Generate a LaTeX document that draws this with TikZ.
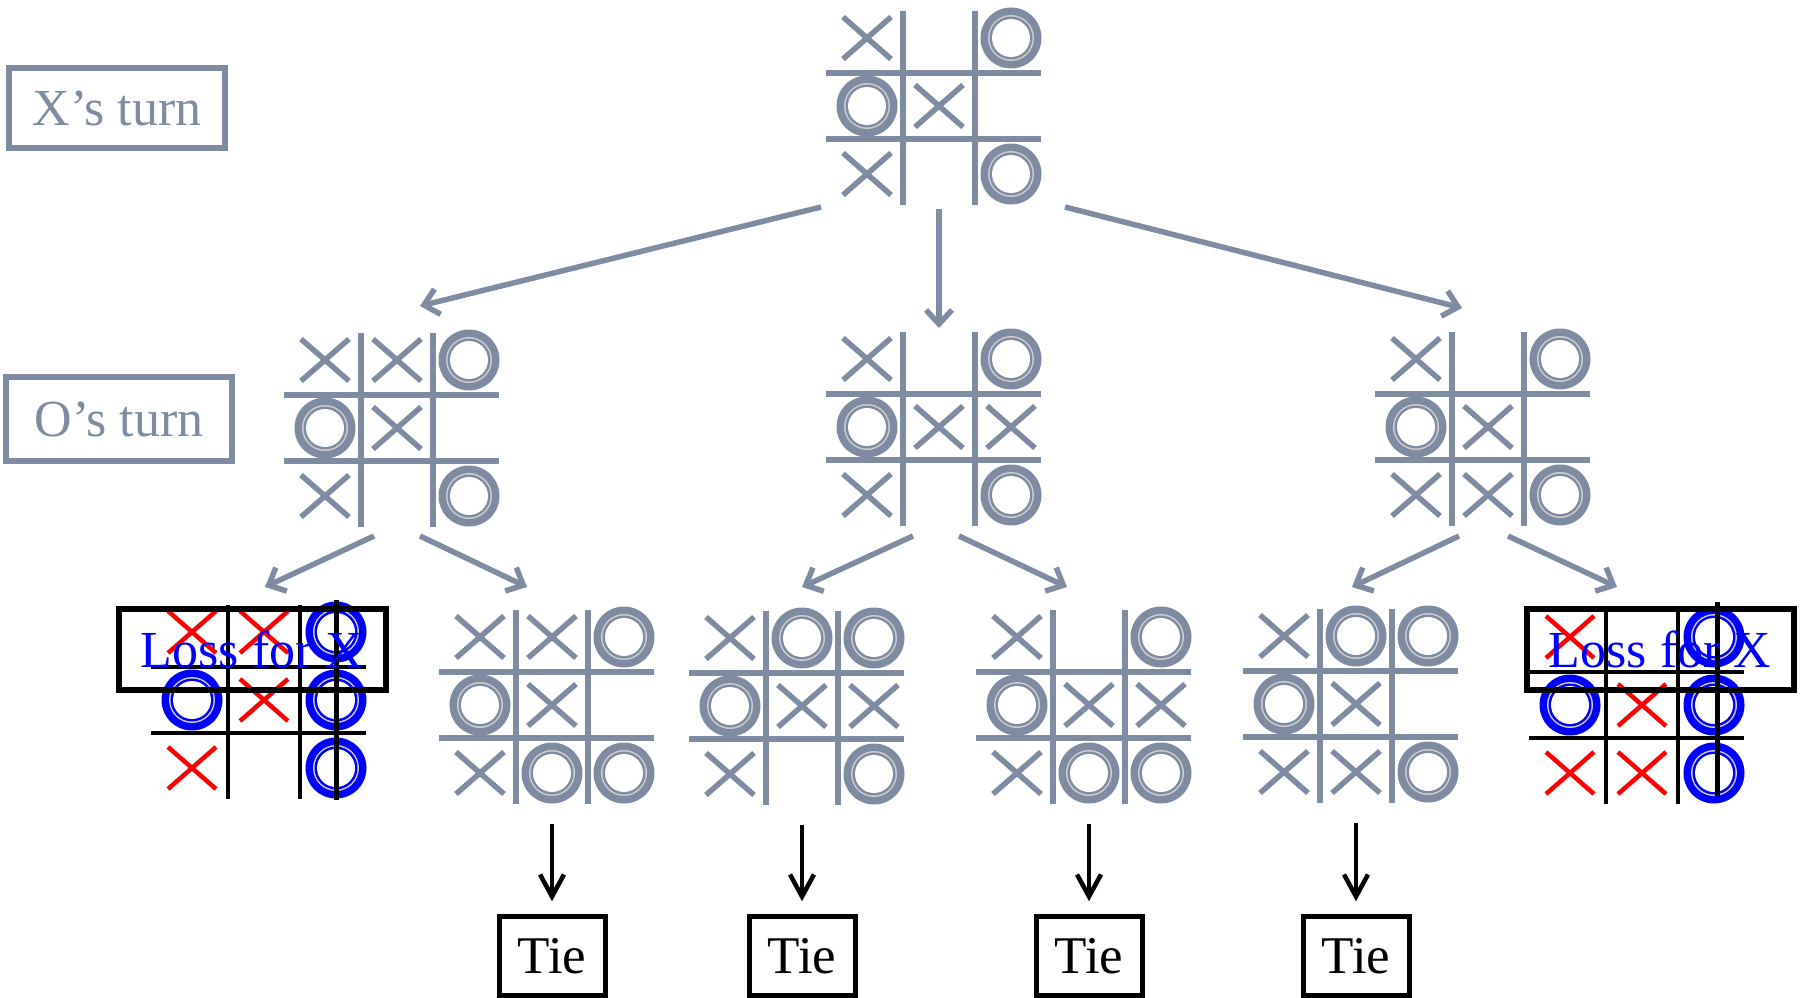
\documentclass[tikz,border=0pt]{standalone}
\usepackage{fontspec}
\setmainfont{Liberation Serif}
\usetikzlibrary{positioning,arrows.meta,calc}

\definecolor{slate}{RGB}{126,139,160}
\definecolor{ringgray}{RGB}{208,206,208}

\tikzset{
  gridline/.style={line width=5.5, draw=slate},
  xline/.style={line width=5.5, draw=slate},
  ofill/.style={fill=slate},
  pics/grid/.style={code={
    \foreach \gx in {-36,36} \draw[gridline] (\gx,-95) -- (\gx,99);
    \foreach \gy in {-33,33} \draw[gridline] (-113,\gy) -- (102,\gy);
  }},
  pics/xmark/.style={code={
    \draw[xline] (-24,-21) -- (24,21) (-24,21) -- (24,-21);
  }},
  pics/omark/.style={code={
    \fill[ofill] (0,0) circle (30.5pt);
    \fill[ringgray] (0,0) circle (23pt);
    \fill[ofill] (0,0) circle (21.5pt);
    \fill[white] (0,0) circle (19pt);
  }},
}

% #1 name, #2 centre, #3 cells with X, #4 cells with O (column/row, -1..1)
\newcommand{\tttboard}[4]{%
  \node[boardbox] (#1) at (#2) {};
  \begin{scope}[shift={(#2)}]
    \pic {grid};
    \foreach \cx/\ry in {#3} \pic at (72*\cx,68*\ry) {xmark};
    \foreach \cx/\ry in {#4} \pic at (72*\cx,68*\ry) {omark};
  \end{scope}}

\begin{document}
\begin{tikzpicture}[x=1pt,y=-1pt]
    \tikzstyle{boardbox}=[rectangle, minimum width=216, minimum height=194, inner sep=0];
    \tikzstyle{turnbox}=[rectangle, draw=slate, line width=6, text=slate, inner sep=0, font=\fontsize{52}{60}\selectfont];
    \tikzstyle{lossbox}=[rectangle, draw=black, line width=6, text=blue, minimum width=267, minimum height=81, inner sep=0, font=\fontsize{52}{60}\selectfont];
    \tikzstyle{tiebox}=[rectangle, draw=black, line width=5, minimum width=106, minimum height=79, inner sep=0, font=\fontsize{53}{60}\selectfont];
    \tikzstyle{treearrow}=[draw=slate, line width=5.5, -{Straight Barb[length=14pt, width=26pt]}];
    \tikzstyle{tiearrow}=[draw=black, line width=4.5, -{Straight Barb[length=22pt, width=24pt]}, shorten <=22pt, shorten >=13pt];
    \tikzstyle{winline}=[draw=black, line width=5];

    \useasboundingbox (0,0) rectangle (1805,998);

    \node[turnbox, minimum width=216, minimum height=79] (xturn) at (117,108) {X’s turn};
    \node[turnbox, minimum width=226, minimum height=84] (oturn) at (119,419) {O’s turn};

    % root and first moves of X
    \tttboard{root}{939,106}{-1/-1, 0/0, -1/1}{1/-1, -1/0, 1/1}
    \tttboard{B1}{397,428}{-1/-1, 0/-1, 0/0, -1/1}{1/-1, -1/0, 1/1}
    \tttboard{B2}{939,427}{-1/-1, 0/0, 1/0, -1/1}{1/-1, -1/0, 1/1}
    \tttboard{B3}{1488,427}{-1/-1, 0/0, -1/1, 0/1}{1/-1, -1/0, 1/1}

    % replies of O
    \tttboard{L2}{552,705}{-1/-1, 0/-1, 0/0, -1/1}{1/-1, -1/0, 0/1, 1/1}
    \tttboard{L3}{802,706}{-1/-1, 0/0, 1/0, -1/1}{0/-1, 1/-1, -1/0, 1/1}
    \tttboard{L4}{1089,705}{-1/-1, 0/0, 1/0, -1/1}{1/-1, -1/0, 0/1, 1/1}
    \tttboard{L5}{1356,704}{-1/-1, 0/0, -1/1, 0/1}{0/-1, 1/-1, -1/0, 1/1}
    \begin{scope}[gridline/.style={line width=4.5, draw=black}, xline/.style={line width=4.5, draw=red}, ofill/.style={fill=blue}]
        \tttboard{L1}{264,700}{-1/-1, 0/-1, 0/0, -1/1}{1/-1, -1/0, 1/0, 1/1}
        \tttboard{L6}{1642,705}{-1/-1, 0/0, -1/1, 0/1}{1/-1, -1/0, 1/0, 1/1}
    \end{scope}
    \draw[winline] ($(L1)+(72,-100)$) -- ($(L1)+(72,100)$);
    \draw[winline] ($(L6)+(75,-103)$) -- ($(L6)+(75,91)$);

    \node[lossbox] (loss1) at ($(L1)+(-12,-51)$) {Loss for X};
    \node[lossbox] (loss6) at ($(L6)+(18,-56)$) {Loss for X};

    \draw[treearrow] ($(root)+(-118,101)$) -- ($(B1)+(23,-122)$);
    \draw[treearrow] ($(root)+(0,103)$) -- ($(B2)+(0,-99)$);
    \draw[treearrow] ($(root)+(126,101)$) -- ($(B3)+(-26,-119)$);

    \draw[treearrow] ($(B1)+(-23,108)$) -- ($(L1)+(1,-113)$);
    \draw[treearrow] ($(B1)+(23,108)$) -- ($(L2)+(-25,-118)$);
    \draw[treearrow] ($(B2)+(-26,109)$) -- ($(L3)+(0,-119)$);
    \draw[treearrow] ($(B2)+(20,109)$) -- ($(L4)+(-22,-118)$);
    \draw[treearrow] ($(B3)+(-29,109)$) -- ($(L5)+(-4,-117)$);
    \draw[treearrow] ($(B3)+(20,109)$) -- ($(L6)+(-25,-118)$);

    \node[tiebox, below=112pt of L2] (tie1) {Tie};
    \node[tiebox, below=111pt of L3] (tie2) {Tie};
    \node[tiebox, below=112pt of L4] (tie3) {Tie};
    \node[tiebox, below=113pt of L5] (tie4) {Tie};

    \draw[tiearrow] (L2.south) -- (tie1);
    \draw[tiearrow] (L3.south) -- (tie2);
    \draw[tiearrow] (L4.south) -- (tie3);
    \draw[tiearrow] (L5.south) -- (tie4);
\end{tikzpicture}
\end{document}
